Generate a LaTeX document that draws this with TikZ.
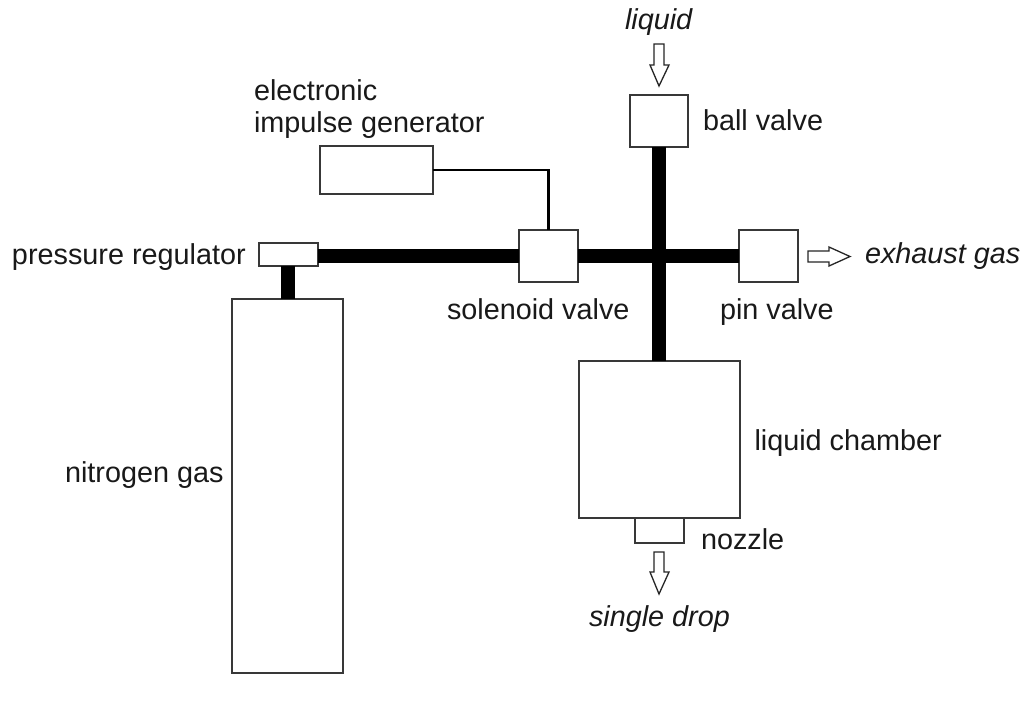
\documentclass[tikz,border=0pt]{standalone}
\usepackage{fontspec}
\setmainfont{Liberation Sans}
\begin{document}
\begin{tikzpicture}[x=1pt,y=-1pt,
  box/.style={draw=black!78,line width=1.4pt,fill=white,inner sep=0pt,outer sep=0pt},
  pipe/.style={line width=14pt,black},
  wire/.style={line width=2.6pt,black,line join=miter},
  blockarrow/.style={draw=black!85,line width=1.3pt,fill=white,line join=miter},
  lab/.style={anchor=base west,inner sep=0pt,outer sep=0pt,font=\fontsize{28.8}{32}\selectfont,text=black!90},
  ilab/.style={lab,font=\fontsize{28.8}{32}\selectfont\itshape}]
\useasboundingbox (0,0) rectangle (1024,702);
\fill[white] (0,0) rectangle (1024,702);
\path
  node[box,minimum width=58pt,minimum height=52pt] (ball) at (659,121) {}
  node[box,minimum width=113pt,minimum height=48pt] (gen) at (376.5,170) {}
  node[box,minimum width=59pt,minimum height=52pt] (sol) at (548.5,256) {}
  node[box,minimum width=59pt,minimum height=52pt] (pin) at (768.5,256) {}
  node[box,minimum width=59pt,minimum height=23pt] (reg) at (288.5,254.5) {}
  node[box,minimum width=111pt,minimum height=374pt] (tank) at (287.5,486) {}
  node[box,minimum width=161pt,minimum height=157pt] (chamber) at (659.5,439.5) {}
  node[box,minimum width=49pt,minimum height=25pt] (nozzle) at (659.5,530.5) {};
% pipes and wire
\draw[pipe] (reg.east |- sol.west) -- (sol.west);
\draw[pipe] (sol.east) -- (pin.west);
\draw[pipe] (ball.south) -- (ball.south |- chamber.north);
\draw[pipe] (tank.north) -- (tank.north |- reg.south);
\draw[wire] (gen.east) -| (sol.north);
% block arrows
\draw[blockarrow] (654,44) -- (664,44) -- (664,65) -- (669,65) -- (659,86) -- (650,65) -- (654,65) -- cycle;
\draw[blockarrow] (654,552) -- (664,552) -- (664,572) -- (669,572) -- (659,594) -- (650,572) -- (654,572) -- cycle;
\draw[blockarrow] (808,251) -- (829,251) -- (829,247) -- (850,256.5) -- (829,266) -- (829,262) -- (808,262) -- cycle;
% labels
\node[ilab] (tliquid) at (625,29) {liquid};
\node[lab] (tball) at (703,130) {ball valve};
\node[lab] (tgen1) at (254,100) {electronic};
\node[lab] (tgen2) at (254,132) {impulse generator};
\node[lab] (treg) at (12,264) {pressure regulator};
\node[lab] (tsol) at (447,319) {solenoid valve};
\node[lab] (tpin) at (720,319) {pin valve};
\node[ilab] (texh) at (865,263) {exhaust gas};
\node[lab] (tnit) at (65,482) {nitrogen gas};
\node[lab] (tcha) at (754.5,450) {liquid chamber};
\node[lab] (tnoz) at (701,549) {nozzle};
\node[ilab] (tdrop) at (589,626) {single drop};
\end{tikzpicture}
\end{document}
